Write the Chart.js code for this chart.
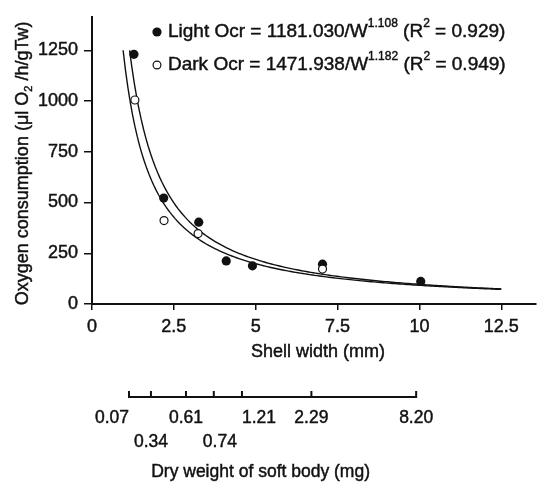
<!DOCTYPE html>
<html>
<head>
<meta charset="utf-8">
<script src="https://cdn.jsdelivr.net/npm/chart.js@4/dist/chart.umd.min.js"></script>
<style>
  html, body { margin: 0; padding: 0; background: #fff; }
  #wrap { width: 542px; height: 487px; }
</style>
</head>
<body>
<div id="wrap"><canvas id="c" width="542" height="487"></canvas></div>
<script>
// Measured oxygen consumption vs. shell width
const shellWidthLight = [1.28, 2.19, 3.26, 4.10, 4.90, 7.04, 10.04];
const ocrLight        = [1230, 522, 403, 212, 188, 196, 111];
const shellWidthDark  = [1.31, 2.20, 3.24, 7.04];
const ocrDark         = [1005, 411, 347, 172];

// Power-law fits: Ocr = coef / W^exp
const lightCoef = 1181.030, lightExp = 1.108, lightR2 = 0.929;
const darkCoef  = 1471.938, darkExp  = 1.182, darkR2  = 0.949;
const fitTop = 1250;     // curves are drawn from this Ocr level ...
const fitEnd = 12.5;     // ... out to this shell width

// Axis ticks
const xTickValues = [0, 2.5, 5, 7.5, 10, 12.5];
const yTickValues = [0, 250, 500, 750, 1000, 1250];

// Secondary scale: dry weight of soft body at given shell widths
const dryWeightLabels = ['0.07', '0.34', '0.61', '0.74', '1.21', '2.29', '8.20'];
const dryWeightShellWidth = [1.13, 1.80, 2.87, 3.72, 4.58, 6.70, 9.90];

const FONT = '"Liberation Sans", Arial, Helvetica, sans-serif';
const INK = '#111';
const STROKE = 0.45;   // slight extra weight on lettering

function fitCurve(coef, exp) {
  const start = Math.pow(coef / fitTop, 1 / exp);
  const pts = [];
  const n = 160;
  for (let i = 0; i <= n; i++) {
    const x = start + (fitEnd - start) * i / n;
    pts.push({ x, y: coef / Math.pow(x, exp) });
  }
  return pts;
}
const pairs = (xs, ys) => xs.map((x, i) => ({ x, y: ys[i] }));

function heavyText(ctx, t, x, y) {
  ctx.fillText(t, x, y);
  ctx.lineWidth = STROKE;
  ctx.strokeText(t, x, y);
}

// Draws a run of text pieces, some raised as superscripts or lowered as subscripts
function drawRich(ctx, parts, x, y, size) {
  ctx.textBaseline = 'middle';
  ctx.textAlign = 'left';
  for (const p of parts) {
    const small = Math.round(size * 0.62) + 'px ' + FONT;
    if (p.sup) {
      ctx.font = small;
      heavyText(ctx, p.t, x, y - size * 0.42);
    } else if (p.sub) {
      ctx.font = small;
      heavyText(ctx, p.t, x, y + size * 0.32);
    } else {
      ctx.font = size + 'px ' + FONT;
      heavyText(ctx, p.t, x, y);
    }
    x += ctx.measureText(p.t).width;
  }
}

const equationKey = {
  id: 'equationKey',
  afterDraw(chart) {
    const { ctx, chartArea } = chart;
    const size = 19;
    const bx = chartArea.left + 65;
    const rows = [
      { y: 32, filled: true, parts: [
        { t: 'Light Ocr = ' + lightCoef.toFixed(3) + '/W' }, { t: lightExp.toFixed(3), sup: true },
        { t: ' (R' }, { t: '2', sup: true }, { t: ' = ' + lightR2.toFixed(3) + ')' }] },
      { y: 65, filled: false, parts: [
        { t: 'Dark Ocr = ' + darkCoef.toFixed(3) + '/W' }, { t: darkExp.toFixed(3), sup: true },
        { t: ' (R' }, { t: '2', sup: true }, { t: ' = ' + darkR2.toFixed(3) + ')' }] }
    ];
    ctx.save();
    ctx.fillStyle = INK;
    ctx.strokeStyle = INK;
    for (const r of rows) {
      ctx.beginPath();
      ctx.arc(bx, r.y, r.filled ? 4.6 : 3.9, 0, Math.PI * 2);
      if (r.filled) { ctx.fill(); } else { ctx.lineWidth = 1.2; ctx.stroke(); }
      drawRich(ctx, r.parts, bx + 11, r.y, size);
    }
    ctx.restore();
  }
};

const axisTitles = {
  id: 'axisTitles',
  afterDraw(chart) {
    const { ctx, chartArea } = chart;
    const size = 18;
    ctx.save();
    ctx.fillStyle = INK;
    ctx.strokeStyle = INK;

    // vertical title with subscript
    const parts = [{ t: 'Oxygen consumption (\u03bcl O' }, { t: '2', sub: true }, { t: ' /h/gTw)' }];
    let w = 0;
    for (const p of parts) {
      ctx.font = ((p.sub || p.sup) ? Math.round(size * 0.62) : size) + 'px ' + FONT;
      w += ctx.measureText(p.t).width;
    }
    const cy = (chartArea.top + chartArea.bottom) / 2 + 3;
    ctx.save();
    ctx.translate(23, cy);
    ctx.rotate(-Math.PI / 2);
    drawRich(ctx, parts, -w / 2, 0, size);
    ctx.restore();

    // horizontal title
    ctx.font = size + 'px ' + FONT;
    ctx.textAlign = 'center';
    ctx.textBaseline = 'middle';
    heavyText(ctx, 'Shell width (mm)', (chartArea.left + chartArea.right) / 2 + 4, chartArea.bottom + 48);
    ctx.restore();
  }
};

const dryWeightScale = {
  id: 'dryWeightScale',
  afterDraw(chart) {
    const { ctx } = chart;
    const xs = chart.scales.x;
    const px = dryWeightShellWidth.map(v => xs.getPixelForValue(v));
    const lineY = 397;
    const align = ['right', 'center', 'center', 'left', 'left', 'center', 'center'];
    const row = [0, 1, 0, 1, 0, 0, 0];
    const rowY = [418, 442];
    ctx.save();
    ctx.strokeStyle = INK;
    ctx.fillStyle = INK;
    ctx.lineWidth = 2;
    ctx.beginPath();
    ctx.moveTo(px[0], lineY);
    ctx.lineTo(px[px.length - 1], lineY);
    for (const p of px) { ctx.moveTo(p, lineY + 1); ctx.lineTo(p, lineY - 6); }
    ctx.stroke();

    ctx.font = '17.5px ' + FONT;
    ctx.textBaseline = 'middle';
    ctx.textAlign = 'left';
    dryWeightLabels.forEach((lab, i) => {
      const w = ctx.measureText(lab).width;
      const a = align[i];
      const left = a === 'right' ? px[i] - w : a === 'left' ? px[i] - 11 * (row[i]) : px[i] - w / 2;
      heavyText(ctx, lab, left, rowY[row[i]]);
    });
    ctx.textAlign = 'center';
    ctx.font = '17.5px ' + FONT;
    heavyText(ctx, 'Dry weight of soft body (mg)', (px[0] + px[px.length - 1]) / 2 - 12, 472);
    ctx.restore();
  }
};

const tickFont = { family: FONT, size: 18 };

new Chart(document.getElementById('c'), {
  type: 'scatter',
  data: {
    datasets: [
      { label: 'Light fit', data: fitCurve(lightCoef, lightExp), showLine: true,
        borderColor: INK, borderWidth: 1.4, pointRadius: 0, tension: 0, order: 4 },
      { label: 'Dark fit', data: fitCurve(darkCoef, darkExp), showLine: true,
        borderColor: INK, borderWidth: 1.4, pointRadius: 0, tension: 0, order: 3 },
      { label: 'Light', data: pairs(shellWidthLight, ocrLight),
        pointRadius: 4.6, backgroundColor: INK, borderColor: INK, borderWidth: 0, order: 2 },
      { label: 'Dark', data: pairs(shellWidthDark, ocrDark),
        pointRadius: 4, backgroundColor: '#fff', borderColor: INK, borderWidth: 1.2, order: 1 }
    ]
  },
  options: {
    responsive: false,
    animation: false,
    devicePixelRatio: 1,
    layout: { padding: { left: 0, top: 8, right: 6, bottom: 0 } },
    plugins: { legend: { display: false }, tooltip: { enabled: false } },
    scales: {
      x: {
        type: 'linear', min: 0, max: 13.56,
        afterFit(s) { s.height = 183; },
        afterBuildTicks(s) { s.ticks = xTickValues.map(v => ({ value: v })); },
        ticks: { font: tickFont, color: INK, padding: 6, maxRotation: 0,
                 textStrokeColor: INK, textStrokeWidth: STROKE,
                 callback: v => String(v) },
        grid: { display: true, drawOnChartArea: false, drawTicks: true, tickLength: 6,
                color: INK, lineWidth: 1.5 },
        border: { display: true, color: INK, width: 2 },
        title: { display: false }
      },
      y: {
        type: 'linear', min: 0, max: 1415,
        afterFit(s) { s.width = 92; },
        afterBuildTicks(s) { s.ticks = yTickValues.map(v => ({ value: v })); },
        ticks: { font: tickFont, color: INK, padding: 6,
                 textStrokeColor: INK, textStrokeWidth: STROKE,
                 callback: v => String(v) },
        grid: { display: true, drawOnChartArea: false, drawTicks: true, tickLength: 8,
                color: INK, lineWidth: 1.5 },
        border: { display: true, color: INK, width: 2 },
        title: { display: false }
      }
    }
  },
  plugins: [equationKey, axisTitles, dryWeightScale]
});
</script>
</body>
</html>
